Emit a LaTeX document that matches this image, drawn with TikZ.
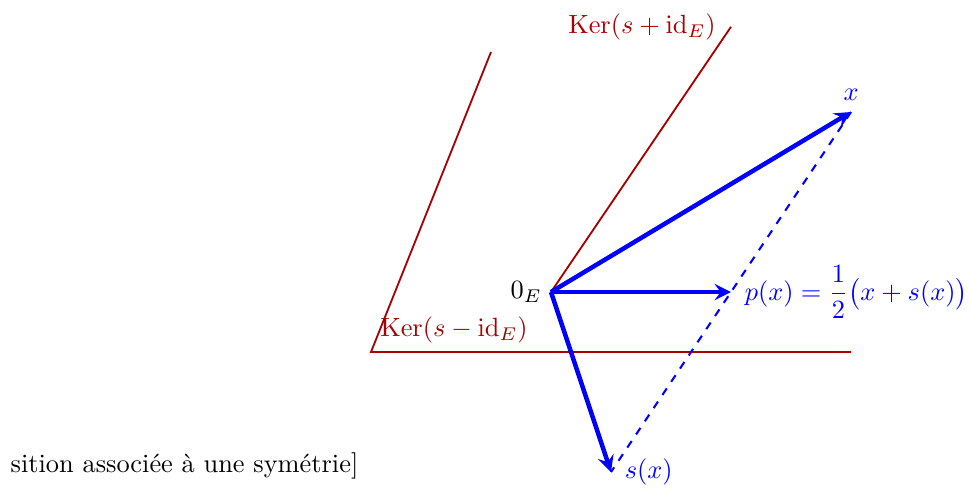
\documentclass[tikz,border=0pt]{standalone}
\usepackage{amsmath}
\begin{document}
\begin{tikzpicture}[scale=0.8,
  kerline/.style={red!65!black,line width=0.7pt},
  vecline/.style={blue,line width=1.7pt,-stealth},
  vlabel/.style={blue}]
  \useasboundingbox (-9.183,-3.25) rectangle (6.983,4.867);
  \coordinate (O) at (0,0);
  \coordinate (X) at (5,3);
  \coordinate (P) at (3,0);
  \coordinate (S) at (1,-3);
  \coordinate (K) at (3,4.42);
  \coordinate (A) at (-1,4);
  \coordinate (B) at (-3,-1);
  \coordinate (C) at (5,-1);
  \draw[kerline] (A) -- (B) -- (C);
  \node[red!65!black,above right] (kminus) at (B) {$\mathrm{Ker}(s-\mathrm{id}_E)$};
  \draw[kerline] (O) -- (K);
  \node[red!65!black,left,xshift=-0.08cm] (kplus) at (K) {$\mathrm{Ker}(s+\mathrm{id}_E)$};
  \draw[blue,thick,dashed] (X) -- (S);
  \draw[vecline] (O) -- (X);
  \draw[vecline] (O) -- (P);
  \draw[vecline] (O) -- (S);
  \node[left] (zero) at (O) {$0_E$};
  \node[vlabel,above,yshift=1pt] (xlab) at (X) {$x$};
  \node[vlabel,right,xshift=0.06cm] (plab) at (P) {$p(x)=\dfrac{1}{2}\big(x+s(x)\big)$};
  \node[vlabel,right,xshift=0.06cm] (slab) at (S) {$s(x)$};
  \node[anchor=west] (cap) at (-9.16,-2.89) {sition associée à une symétrie]};
\end{tikzpicture}
\end{document}
